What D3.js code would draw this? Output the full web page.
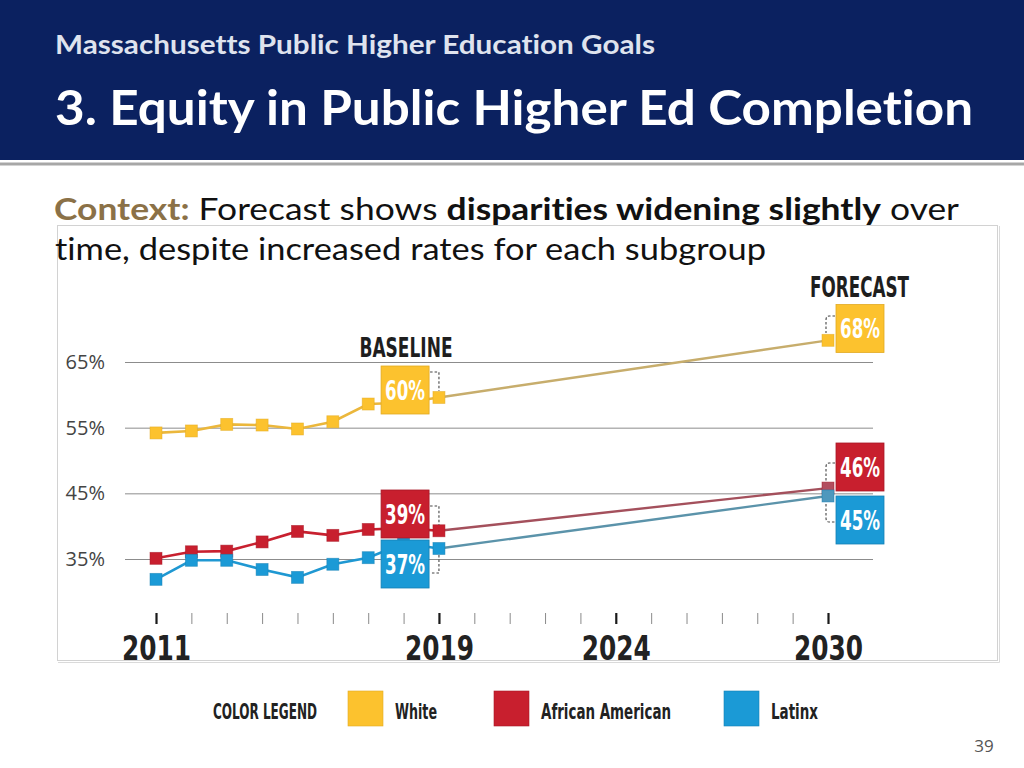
<!DOCTYPE html>
<html><head><meta charset="utf-8">
<script src="https://cdn.jsdelivr.net/npm/d3@7"></script>
<style>
html,body{margin:0;padding:0;background:#fff;}
svg{display:block;}
text{font-variant-ligatures:none;}
.cond{font-family:"Liberation Sans Narrow","DejaVu Sans Condensed","Roboto",sans-serif;font-stretch:condensed;font-weight:bold;}
</style></head>
<body>
<svg id="chart" width="1024" height="768"></svg>
<script>
// ---------- data ----------
const years = [2011, 2012, 2013, 2014, 2015, 2016, 2017, 2018, 2019, 2030];
const white = [54.2, 54.5, 55.5, 55.4, 54.8, 55.9, 58.6, 58.8, 59.6, 68.3];
const african = [35.1, 36.1, 36.2, 37.6, 39.2, 38.6, 39.5, 39.7, 39.3, 45.8];
const latinx = [31.9, 34.8, 34.8, 33.4, 32.2, 34.2, 35.2, 37.4, 36.6, 44.6];
const seriesNames = ["White", "African American", "Latinx"];
const baselineLabels = ["60%", "39%", "37%"];
const forecastLabels = ["68%", "46%", "45%"];
const yTicks = [35, 45, 55, 65];
const xTickYears = d3.range(2011, 2031);
const xMajor = [2011, 2019, 2024, 2030];

// ---------- styles ----------
const fill = ["#fcc22e", "#c81f2e", "#1b9ad6"];
const stroke = ["#e2aa22", "#a81826", "#1580b4"];
const histLine = ["#ebb73c", "#c8202f", "#1f98d2"];
const foreLine = ["#c7ad6c", "#a4505c", "#5b93aa"];
const foreMarker = ["#fcc12d", "#b24e5f", "#4e98bd"];

const svg = d3.select("#chart");
const fit = (sel, w) => sel.attr("textLength", w).attr("lengthAdjust", "spacingAndGlyphs");

// ---------- header ----------
svg.append("rect").attr("x", 0).attr("y", 0).attr("width", 1024).attr("height", 160).attr("fill", "#0b2160");
svg.append("rect").attr("x", 0).attr("y", 162.5).attr("width", 1024).attr("height", 3).attr("fill", "#a7a7a7");
svg.append("text").attr("x", 55).attr("y", 54)
  .style("font-family", "Lato, 'Open Sans', sans-serif").style("font-weight", "bold").style("font-size", "26px")
  .attr("fill", "#dfe3ee").text("Massachusetts Public Higher Education Goals").call(fit, 600);
svg.append("text").attr("x", 55).attr("y", 125)
  .style("font-family", "Lato, 'Open Sans', sans-serif").style("font-weight", "bold").style("font-size", "48px")
  .attr("fill", "#ffffff").text("3. Equity in Public Higher Ed Completion").call(fit, 918);

// ---------- chart frame ----------
svg.append("rect").attr("x", 57.5).attr("y", 225.5).attr("width", 940).attr("height", 435)
  .attr("fill", "#fff").attr("stroke", "#d2d2d2");
svg.append("path").attr("d", "M999.5,226 V662.5 H58").attr("fill", "none").attr("stroke", "#dadada");

// ---------- context text ----------
const ctx = svg.append("text").attr("x", 54).attr("y", 220)
  .style("font-family", "Lato, 'Open Sans', sans-serif").style("font-size", "30px").attr("fill", "#111");
ctx.append("tspan").attr("fill", "#8b7147").style("font-weight", "bold").text("Context:");
ctx.append("tspan").text(" Forecast shows ");
ctx.append("tspan").style("font-weight", "bold").text("disparities widening slightly");
ctx.append("tspan").text(" over");
ctx.call(fit, 905);
svg.append("text").attr("x", 55).attr("y", 260)
  .style("font-family", "Lato, 'Open Sans', sans-serif").style("font-size", "30px").attr("fill", "#111")
  .text("time, despite increased rates for each subgroup").call(fit, 711);

// ---------- scales ----------
const x = d3.scaleLinear().domain([2011, 2030]).range([156, 828]);
const y = d3.scaleLinear().domain([35, 65]).range([559, 362]);

// y grid + labels
const gy = svg.append("g").attr("transform", "translate(125,0)")
  .call(d3.axisLeft(y).tickValues(yTicks).tickSize(-748).tickPadding(20).tickFormat(d => d + "%"));
gy.select(".domain").remove();
gy.selectAll("line").attr("stroke", "#8c8c8c");
gy.selectAll("text").style("font-family", "'Open Sans', sans-serif").style("font-size", "20px").attr("fill", "#444");

// x ticks
const gx = svg.append("g").attr("transform", "translate(0,613)")
  .call(d3.axisBottom(x).tickValues(xTickYears).tickSize(11).tickFormat(d => xMajor.includes(d) ? d : ""));
gx.select(".domain").remove();
gx.selectAll(".tick line")
  .attr("stroke", d => xMajor.includes(d) ? "#1a1a1a" : "#8a8a8a")
  .attr("stroke-width", d => xMajor.includes(d) ? 2.2 : 1);
gx.selectAll(".tick text").attr("class", "cond").attr("y", 47).attr("dy", 0)
  .style("font-size", "33px").attr("fill", "#222")
  .each(function (d) { if (xMajor.includes(d)) d3.select(this).call(fit, 69); });

// ---------- lines & markers ----------
const series = [white, african, latinx];
const line = d3.line().x(d => x(d[0])).y(d => y(d[1]));
series.forEach((vals, i) => {
  const pts = years.map((yr, j) => [yr, vals[j]]);
  svg.append("path").attr("d", line(pts.slice(0, 9))).attr("fill", "none")
    .attr("stroke", histLine[i]).attr("stroke-width", 2.6);
  svg.append("path").attr("d", line(pts.slice(8))).attr("fill", "none")
    .attr("stroke", foreLine[i]).attr("stroke-width", 2.4);
});
series.forEach((vals, i) => {
  const pts = years.map((yr, j) => [yr, vals[j]]);
  svg.append("g").selectAll("rect").data(pts).join("rect")
    .attr("x", d => x(d[0]) - 6).attr("y", d => y(d[1]) - 6).attr("width", 12).attr("height", 12)
    .attr("fill", d => d[0] === 2030 ? foreMarker[i] : fill[i])
    .attr("stroke", stroke[i]).attr("stroke-width", 0.8).attr("stroke-opacity", 0.6);
});

// ---------- annotation boxes ----------
const bx = x(2018) - 22.5;      // baseline boxes left edge
const fx = x(2030) + 8;         // forecast boxes left edge
const baseTops = [366, 490, 540];
const foreTops = [304.5, 443, 496];
const box = (left, top, i, label) => {
  svg.append("rect").attr("x", left).attr("y", top).attr("width", 48).attr("height", 48)
    .attr("fill", fill[i]).attr("stroke", stroke[i]).attr("stroke-width", 0.8);
  svg.append("text").attr("class", "cond").attr("x", left + 24).attr("y", top + 33.5)
    .attr("text-anchor", "middle").style("font-size", "27px").attr("fill", "#fff")
    .text(label).call(fit, 40);
};
baseTops.forEach((t, i) => box(bx, t, i, baselineLabels[i]));
foreTops.forEach((t, i) => box(fx, t, i, forecastLabels[i]));

// brackets
const bxr = bx + 49, bxv = x(2019);
const fxl = fx - 1, fxv = x(2030) - 2;
const brackets = [
  `M${bxr},372 H${bxv} V391`,
  `M${bxr},506 H${bxv} V525`,
  `M${bxv},555 V573 H${bxr}`,
  `M${fxl},316 H${fxv + 3} Q${fxv},316 ${fxv},320 V333`,
  `M${fxl},463 H${fxv + 3} Q${fxv},463 ${fxv},467 V482`,
  `M${fxv},504 V518 Q${fxv},522 ${fxv + 3},522 H${fxl}`
];
svg.append("g").selectAll("path").data(brackets).join("path").attr("d", d => d)
  .attr("fill", "none").attr("stroke", "#444").attr("stroke-width", 1.1).attr("stroke-dasharray", "2.5,2");

svg.append("text").attr("class", "cond").attr("x", 406).attr("y", 357).attr("text-anchor", "middle")
  .style("font-size", "27px").attr("fill", "#1e1e1e").text("BASELINE").call(fit, 93);
svg.append("text").attr("class", "cond").attr("x", 859.5).attr("y", 297).attr("text-anchor", "middle")
  .style("font-size", "29px").attr("fill", "#1e1e1e").text("FORECAST").call(fit, 99);

// ---------- legend ----------
svg.append("text").attr("class", "cond").attr("x", 213).attr("y", 719)
  .style("font-size", "22px").attr("fill", "#222").text("COLOR LEGEND").call(fit, 104);
const legX = [348, 494, 724];
const legW = [42, 130, 47];
seriesNames.forEach((n, i) => {
  svg.append("rect").attr("x", legX[i]).attr("y", 691).attr("width", 35).attr("height", 35)
    .attr("fill", fill[i]).attr("stroke", stroke[i]).attr("stroke-width", 0.6);
  svg.append("text").attr("class", "cond").attr("x", legX[i] + 47).attr("y", 719)
    .style("font-size", "22px").attr("fill", "#222").text(n).call(fit, legW[i]);
});

// page number
svg.append("text").attr("x", 984).attr("y", 752).attr("text-anchor", "middle")
  .style("font-family", "'Open Sans', sans-serif").style("font-size", "17px").attr("fill", "#555").text("39");
</script>
</body></html>
